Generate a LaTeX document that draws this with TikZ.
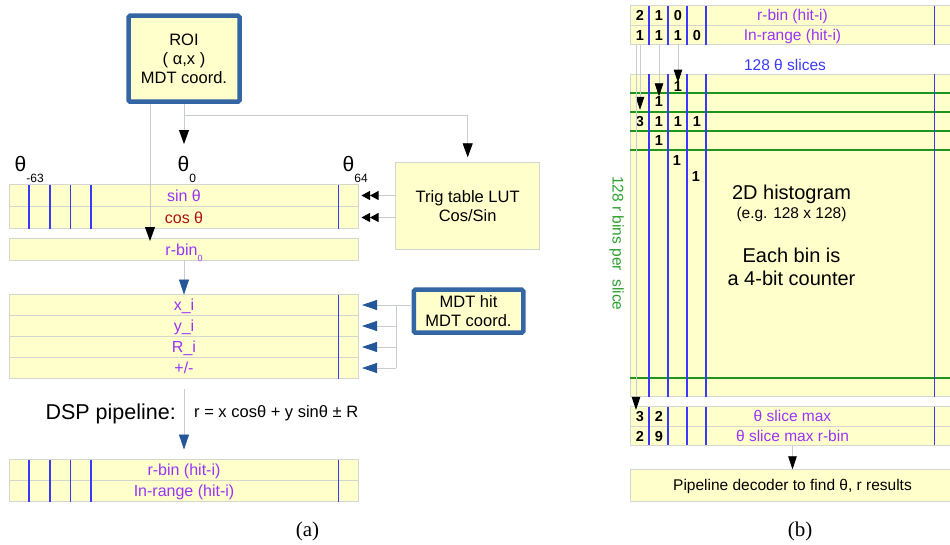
\documentclass[tikz,border=0pt]{standalone}
\usepackage{fontspec}
\setmainfont{Liberation Sans}
\newfontfamily\captionfont{Liberation Serif}
\usetikzlibrary{positioning,arrows.meta,calc}

\definecolor{cellfill}{HTML}{FFFFCC}
\definecolor{cellline}{HTML}{D4D6D0}
\definecolor{roiblue}{HTML}{3465A4}
\definecolor{tipblue}{HTML}{24569A}
\definecolor{divblue}{HTML}{3838FF}
\definecolor{gridgreen}{HTML}{1E961E}
\definecolor{labelgreen}{HTML}{2DA02D}
\definecolor{labelpurple}{HTML}{9933FF}
\definecolor{labelred}{HTML}{AA1111}
\definecolor{connline}{HTML}{C8CBD0}

\newcommand{\fsz}[2]{\fontsize{#1}{#2}\selectfont}

\begin{document}
\begin{tikzpicture}[x=1pt, y=-1pt,
    pane/.style={draw=cellline, fill=cellfill, line width=0.8pt, inner sep=0pt, outer sep=0pt},
    lrow/.style={pane, anchor=north west, minimum width=349pt, minimum height=#1,
        text=labelpurple, font=\fsz{16}{16}, text height=11.5pt, text depth=0pt},
    rrow/.style={pane, anchor=north west, minimum width=325pt, minimum height=#1,
        text=labelpurple, font=\fsz{15.5}{15.5}, text height=11.1pt, text depth=0pt},
    blueframe/.style={draw=roiblue, fill=cellfill, line width=4.5pt, rounded corners=1.5pt,
        align=center, font=\fsz{16.5}{19.3}},
    cnt/.style={font=\bfseries\fsz{14.5}{14.5}, inner sep=0pt, text height=10.4pt, text depth=0pt},
    thlabel/.style={anchor=base west, inner sep=0pt},
    divider/.style={draw=divblue, line width=1.6pt},
    gridline/.style={draw=gridgreen, line width=1.8pt},
    conn/.style={draw=connline, line width=0.8pt},
    headk/.style={-{Triangle[width=10pt,length=14pt,color=black]}},
    headb/.style={-{Triangle[width=10pt,length=15pt,color=tipblue]}},
    headsm/.style={-{Triangle[width=8.5pt,length=13pt,color=black]}},
    headdbl/.style={-{Triangle[width=9pt,length=8.5pt,color=black]Triangle[width=9pt,length=8.5pt,color=black]}}
]
\useasboundingbox (0,0) rectangle (950,544);

\node[blueframe, minimum width=111pt, minimum height=86pt] (roi) at (184,58.7) {ROI\\( α,x )\\MDT coord.};
\node[pane, minimum width=144pt, minimum height=87pt, align=center, font=\fsz{16.5}{19}] (trig) at (467.7,205.8) {Trig table LUT\\Cos/Sin};
\node[blueframe, minimum width=109.5pt, minimum height=43pt] (mdt) at (468.5,311.2) {MDT hit\\MDT coord.};

\node[thlabel] (thm) at (14.5,171) {{\fsz{21}{21}θ}\raisebox{-11pt}{\fsz{12}{12}-63}};
\node[thlabel] (th0) at (177.5,171) {{\fsz{21}{21}θ}\raisebox{-11pt}{\fsz{12}{12}0}};
\node[thlabel] (thp) at (342.5,171) {{\fsz{21}{21}θ}\raisebox{-11pt}{\fsz{12}{12}64}};

\node[lrow=22pt] (sinrow) at (9.5,184.5) {sin θ};
\node[lrow=22pt, below=0pt of sinrow, text=labelred] (cosrow) {cos θ};
\node[lrow=21.5pt] (rbinrow) at (9.5,238.5) {r-bin\raisebox{-6pt}{\fsz{9}{9}0}};
\foreach \x in {29,50,70.5,91,338.5}
  \draw[divider] (\x,184.5) -- (\x,228.5);

\node[lrow=21pt] (xrow) at (9.5,294.5) {x\_i};
\node[lrow=21pt, below=0pt of xrow] (yrow) {y\_i};
\node[lrow=21pt, below=0pt of yrow] (Rrow) {R\_i};
\node[lrow=21pt, below=0pt of Rrow] (pmrow) {+/-};
\draw[divider] (338.5,294.5) -- (338.5,378.5);

\node[anchor=east, inner sep=0pt, font=\fsz{21.5}{21.5}, text height=15.4pt, text depth=0pt] (dsp) at (176,412) {DSP pipeline:};
\node[anchor=west, inner sep=0pt, font=\fsz{16.5}{16.5}, text height=11.8pt, text depth=0pt] (formula) at (194,412) {r = x cosθ + y sinθ ± R};

\node[lrow=21pt] (hitbin) at (9.5,459.5) {r-bin (hit-i)};
\node[lrow=21pt, below=0pt of hitbin] (hitrange) {In-range (hit-i)};
\foreach \x in {29,50,70.5,91,338.5}
  \draw[divider] (\x,459.5) -- (\x,501.5);

\coordinate (roiL) at ($(roi.south)+(-34,0)$);
\coordinate (th0tip) at (184,144);
\coordinate (hub) at (396,0);
\draw[conn, headk, shorten >=-2.5pt] (roiL) -- (roiL |- rbinrow.north);
\draw[conn, headk] (roi.south) -- (th0tip);
\draw[conn, headk, shorten >=5pt] (roi.south) -- ++(0,11) -| (trig.north);
\draw[conn, headdbl, shorten >=3pt] (trig.west |- sinrow.east) -- (sinrow.east);
\draw[conn, headdbl, shorten >=3pt] (trig.west |- cosrow.east) -- (cosrow.east);
\draw[conn, headb] (rbinrow.south) -- (xrow.north);
\draw[conn] (mdt.west |- xrow.east) -- (hub |- xrow.east) -- (hub |- pmrow.east);
\foreach \r in {xrow,yrow,Rrow,pmrow}
  \draw[conn, headb, shorten >=3.5pt] (hub |- \r.east) -- (\r.east);
\draw[conn, headb, shorten <=10pt, shorten >=10pt] (pmrow.south) -- (hitbin.north);

\node[rrow=19.5pt] (binrow) at (630,5.5) {r-bin (hit-i)};
\node[rrow=19.5pt, below=0pt of binrow] (inrow) {In-range (hit-i)};
\foreach \x in {649,668,687,706,934.5}
  \draw[divider] (\x,5.5) -- (\x,44.5);
\foreach \x/\n in {640/2,659/1,678/0}
  \node[cnt] at (\x,15.5) {\n};
\foreach \x/\n in {640/1,659/1,678/1,697/0}
  \node[cnt] at (\x,35) {\n};

\node[font=\fsz{15.5}{15.5}, text=divblue] (slices) at (785,65) {128 θ slices};

\node[pane, anchor=north west, minimum width=325pt, minimum height=322.5pt] (hist) at (630,74) {};
\foreach \y in {92.7,112.3,131,150,378.3}
  \draw[gridline] (630,\y) -- (950,\y);
\foreach \x in {649,668,687,706,934.5}
  \draw[divider] (\x,74) -- (\x,396.5);
\node[cnt] (h03) at (678,86) {1};
\node[cnt] (h12) at (659,101.7) {1};
\node[cnt] (h21) at (640,121.7) {3};
\foreach \x in {659,678,697}
  \node[cnt] at (\x,121.7) {1};
\node[cnt] at (659,140.5) {1};
\node[cnt] at (677,160.5) {1};
\node[cnt] at (696,176) {1};

\node[anchor=base, font=\fsz{20}{20}] (histtitle) at (791.5,199.5) {2D histogram};
\node[anchor=base, font=\fsz{15.5}{15.5}] (histsize) at (791.5,218.3) {(e.g. 128 x 128)};
\node[anchor=base, font=\fsz{20}{20}] (bintxt) at (791.5,262.7) {Each bin is};
\node[anchor=base, font=\fsz{20}{20}] (cnttxt) at (791.5,285) {a 4-bit counter};
\node[rotate=-90, font=\fsz{15.5}{15.5}, text=labelgreen] (rbins) at (616.7,243.3) {128 r bins per\ \ slice};

\node[rrow=19.3pt] (maxrow) at (630,406.7) {θ slice max};
\node[rrow=19.3pt, below=0pt of maxrow] (mrrow) {θ slice max r-bin};
\foreach \x in {649,668,687,706,934.5}
  \draw[divider] (\x,406.7) -- (\x,445.3);
\node[cnt] (m31) at (640,416.5) {3};
\node[cnt] at (659,416.5) {2};
\node[cnt] at (640,435.8) {2};
\node[cnt] at (659,435.8) {9};

\node[pane, anchor=north west, minimum width=325pt, minimum height=31.7pt, font=\fsz{15.5}{15.5}, text height=11.1pt, text depth=0pt] (dec) at (630,469.3) {Pipeline decoder to find θ, r results};

\draw[conn, headsm, shorten >=-2pt] (inrow.south -| h03) -- (h03.north);
\draw[conn, headsm] (inrow.south -| h12) -- (h12.north);
\draw[conn, headsm, shorten >=6.5pt] (inrow.south -| h21) -- (h21.north);
\draw[conn, headsm, shorten >=1.3pt] ($(inrow.south -| m31)+(-4,0)$) -- ($(m31.north)+(-4,0)$);
\draw[conn, headsm] (mrrow.south) -- (dec.north);

\node[font=\captionfont\fsz{21}{21}] (capa) at (307.5,531.5) {(a)};
\node[font=\captionfont\fsz{21}{21}] (capb) at (800,531.5) {(b)};
\end{tikzpicture}
\end{document}
